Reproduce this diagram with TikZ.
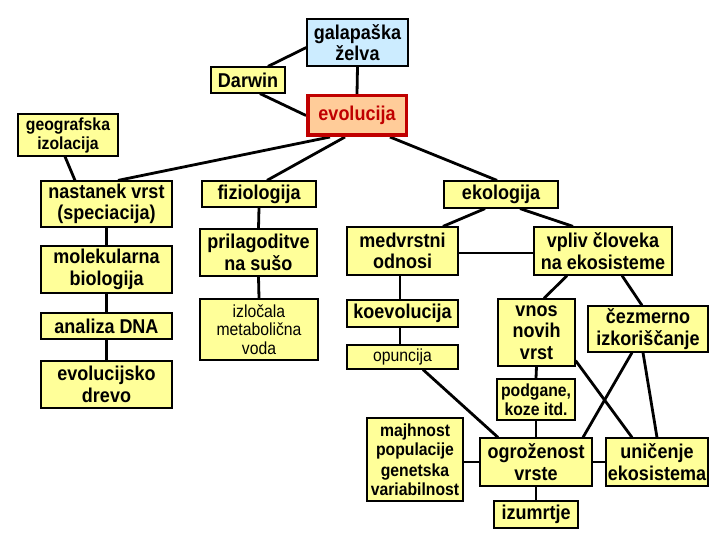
\documentclass[tikz,border=0pt]{standalone}
\usepackage{fontspec}
\setmainfont{Liberation Sans}[FakeStretch=0.9]
\usetikzlibrary{backgrounds}
\definecolor{boxyellow}{HTML}{FFFF99}
\definecolor{boxblue}{HTML}{CCECFF}
\definecolor{peach}{HTML}{FFCC99}
\definecolor{darkred}{HTML}{C00000}
\tikzset{
  box/.style={draw=black, line width=1.2pt, fill=boxyellow, inner sep=0pt, align=center,
    font=\bfseries\fontsize{20}{21.5}\selectfont},
  thin/.style={font=\fontsize{17.5}{18.5}\selectfont},
  small/.style={font=\bfseries\fontsize{17.5}{19}\selectfont},
  conn/.style={line width=2.8pt, black}
}
\begin{document}
\begin{tikzpicture}[x=1pt,y=-1pt]
\useasboundingbox (0,0) rectangle (720,540);
% top
\node[box, fill=boxblue, minimum width=101pt, minimum height=47pt] (galap) at (357.5,42.5) {galapaška\\želva};
\node[box, minimum width=74pt, minimum height=26pt] (darwin) at (248,80) {Darwin};
\node[box, fill=peach, draw=darkred, line width=3.5pt, text=darkred, minimum width=98.5pt, minimum height=39.5pt] (evol) at (357,115.5) {evolucija};
\node[box, small, minimum width=100pt, minimum height=42pt] (geo) at (68,135) {geografska\\izolacija};
% left column
\node[box, minimum width=131pt, minimum height=46pt] (nast) at (106.5,204) {nastanek vrst\\(speciacija)};
\node[box, minimum width=131pt, minimum height=47pt] (molek) at (106.5,269.5) {molekularna\\biologija};
\node[box, minimum width=131pt, minimum height=26pt] (anal) at (106.5,326) {analiza DNA};
\node[box, minimum width=131pt, minimum height=47pt] (drevo) at (106.5,384.5) {evolucijsko\\drevo};
% second column
\node[box, minimum width=114pt, minimum height=26pt] (fiz) at (259,194) {fiziologija};
\node[box, minimum width=117pt, minimum height=47pt] (pril) at (258.5,252.5) {prilagoditve\\na sušo};
\node[box, thin, minimum width=118pt, minimum height=61pt] (izl) at (259,329.5) {izločala\\metabolična\\voda};
% ecology
\node[box, minimum width=114pt, minimum height=27pt] (eko) at (501,194.5) {ekologija};
\node[box, minimum width=111pt, minimum height=48pt] (medv) at (402.5,251) {medvrstni\\odnosi};
\node[box, minimum width=138pt, minimum height=48pt] (vpliv) at (603,251) {vpliv človeka\\na ekosisteme};
\node[box, minimum width=111pt, minimum height=27pt] (koev) at (402.5,313.5) {koevolucija};
\node[box, thin, minimum width=111pt, minimum height=24pt] (opun) at (402.5,357) {opuncija};
\node[box, minimum width=77pt, minimum height=67pt] (vnos) at (536.5,332.5) {vnos\\novih\\vrst};
\node[box, minimum width=120pt, minimum height=46pt] (cez) at (648,329) {čezmerno\\izkoriščanje};
\node[box, small, minimum width=78pt, minimum height=41pt] (podg) at (536,399.5) {podgane,\\koze itd.};
\node[box, small, minimum width=96pt, minimum height=83pt] (majh) at (415,459.5) {majhnost\\populacije\\[2pt]genetska\\variabilnost};
\node[box, minimum width=112pt, minimum height=48pt] (ogr) at (536,462) {ogroženost\\vrste};
\node[box, minimum width=102pt, minimum height=48pt] (unic) at (657,462) {uničenje\\ekosistema};
\node[box, minimum width=84pt, minimum height=27pt] (izum) at (536,514.5) {izumrtje};
\begin{scope}[on background layer]
\fill[white] (0,0) rectangle (720,540);
\draw[conn] ([yshift=-5pt]galap.west) -- ([xshift=20pt]darwin.north);
\draw[conn] ([xshift=12pt]darwin.south) -- (evol.west);
\draw[conn] (galap.south) -- (evol.north);
\draw[conn] ([xshift=-27pt]evol.south) -- ([xshift=11.5pt]nast.north);
\draw[conn] ([xshift=-3pt]geo.south) -- ([xshift=-31.5pt]nast.north);
\draw[conn] ([xshift=-12pt]evol.south) -- ([xshift=8pt]fiz.north);
\draw[conn] ([xshift=33pt]evol.south) -- ([xshift=-4pt]eko.north);
\draw[conn] (nast.south) -- (molek.north);
\draw[conn] (molek.south) -- (anal.north);
\draw[conn] (anal.south) -- (drevo.north);
\draw[conn] (fiz.south) -- (pril.north);
\draw[conn] (pril.south) -- (izl.north);
\draw[conn] ([xshift=-16pt]eko.south) -- ([xshift=40.5pt]medv.north);
\draw[conn] ([xshift=19pt]eko.south) -- ([xshift=-30pt]vpliv.north);
\draw[conn] ([yshift=-2pt]medv.east) -- ([yshift=-2pt]vpliv.west);
\draw[conn] ([xshift=-2.5pt]medv.south) -- ([xshift=-2.5pt]koev.north);
\draw[conn] ([xshift=-2.5pt]koev.south) -- ([xshift=-2.5pt]opun.north);
\draw[conn] ([xshift=20.5pt]opun.south) -- ([xshift=-38pt]ogr.north);
\draw[conn] ([xshift=-36pt]vpliv.south) -- ([xshift=7.5pt]vnos.north);
\draw[conn] ([xshift=19pt]vpliv.south) -- ([xshift=-6pt]cez.north);
\draw[conn] (vnos.south) -- (podg.north);
\draw[conn] (podg.south) -- (ogr.north);
\draw[conn] (ogr.south) -- (izum.north);
\draw[conn] ([yshift=6pt]vnos.south east) -- ([xshift=-25pt]unic.north);
\draw[conn] ([xshift=-16pt]cez.south) -- ([xshift=47pt]ogr.north);
\draw[conn] ([xshift=-5pt]cez.south) -- (unic.north);
\draw[conn] ([yshift=-2.5pt]majh.east) -- (ogr.west);
\draw[conn] (ogr.east) -- (unic.west);
\end{scope}
\end{tikzpicture}
\end{document}
